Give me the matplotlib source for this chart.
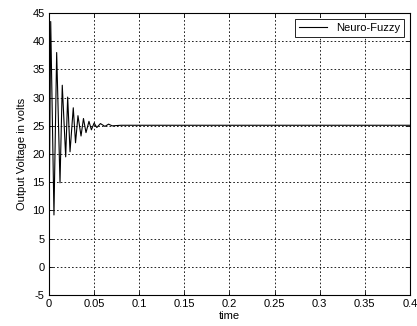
import numpy as np
import matplotlib
matplotlib.use('Agg')
import matplotlib.pyplot as plt

# values (peaks / troughs of the damped response)
t = [0.0, 0.0019, 0.0055, 0.0085, 0.0122, 0.0147, 0.0185, 0.0207, 0.0233,
     0.0269, 0.0294, 0.0321, 0.0355, 0.0382, 0.041, 0.0443, 0.047, 0.050,
     0.053, 0.057, 0.062, 0.066, 0.070, 0.08, 0.4]
v = [5.5, 43.5, 9.2, 38.0, 14.9, 32.2, 19.5, 30.1, 20.4,
     28.2, 22.0, 26.8, 23.2, 26.3, 23.8, 25.8, 24.3, 25.5,
     24.7, 25.4, 24.9, 25.3, 25.0, 25.1, 25.1]

xticks = [0, 0.05, 0.1, 0.15, 0.2, 0.25, 0.3, 0.35, 0.4]
xlabels = ['0', '0.05', '0.1', '0.15', '0.2', '0.25', '0.3', '0.35', '0.4']
yticks = list(range(-5, 50, 5))

plt.rcParams['font.family'] = ['Liberation Sans', 'DejaVu Sans']
plt.rcParams['font.size'] = 8
plt.rcParams['axes.unicode_minus'] = False

fig = plt.figure(figsize=(4.17, 3.26), dpi=100)
ax = fig.add_axes([0.1175, 0.095, 0.8655, 0.865])

ax.plot(t, v, color='black', lw=0.8, label='Neuro-Fuzzy')

ax.set_xlim(0, 0.4)
ax.set_ylim(-5, 45)
ax.set_xticks(xticks)
ax.set_xticklabels(xlabels)
ax.set_yticks(yticks)
ax.tick_params(direction='in', top=True, right=True, length=3, width=0.6, pad=3)
ax.grid(True, color='black', linestyle=(0, (2, 2.5)), linewidth=0.6)
for s in ax.spines.values():
    s.set_linewidth(0.8)

ax.set_xlabel('time', labelpad=1)
ax.set_ylabel('Output Voltage in volts', labelpad=4)

leg = ax.legend(loc='upper right', fancybox=False, framealpha=1,
                edgecolor='black', handlelength=2.5, borderpad=0.4)
leg.get_frame().set_linewidth(0.6)

fig.savefig('out.png', dpi=100)
